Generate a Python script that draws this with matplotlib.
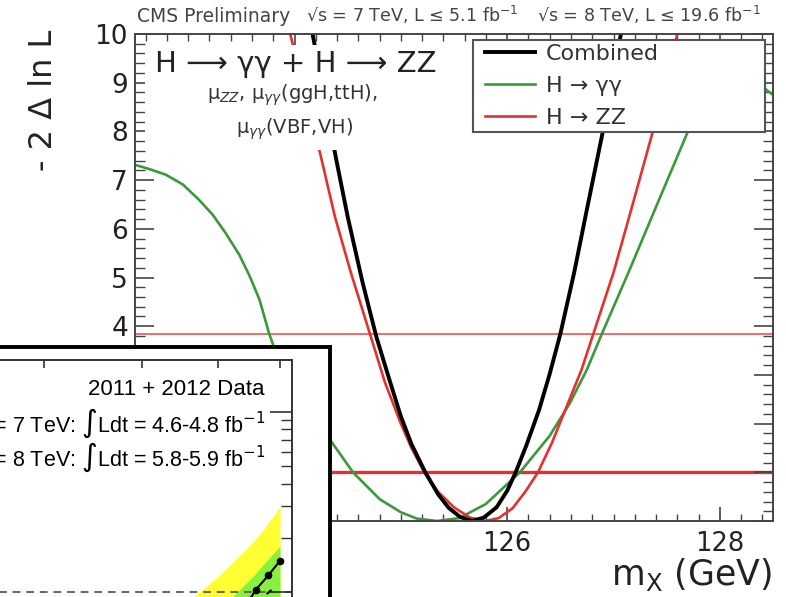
import matplotlib
matplotlib.use("Agg")
import matplotlib.pyplot as plt
from matplotlib.ticker import (MultipleLocator, FixedLocator, NullLocator, LogLocator,
                               FuncFormatter)
from matplotlib.patches import Rectangle

plt.rcParams['font.family'] = ['DejaVu Sans']
plt.rcParams['mathtext.fontset'] = 'dejavusans'

# ---------------- main-plot data ----------------
mass_comb = [124.17, 124.30, 124.39, 124.50, 124.64, 124.77, 124.90, 125.00, 125.10, 125.23,
             125.35, 125.45, 125.56, 125.67, 125.78, 125.90, 126.00, 126.08, 126.18, 126.30,
             126.40, 126.50, 126.63, 126.75, 126.90, 127.07]
nll_comb = [10.0, 8.50, 7.45, 6.25, 4.90, 3.78, 2.85, 2.15, 1.58, 1.00,
            0.55, 0.27, 0.08, 0.00, 0.07, 0.28, 0.62, 1.00, 1.55, 2.28,
            3.02, 3.84, 5.10, 6.40, 8.00, 10.0]

mass_zz = [123.96, 124.10, 124.24, 124.38, 124.53, 124.71, 124.85, 125.00, 125.10, 125.22,
           125.35, 125.50, 125.65, 125.80, 125.92, 126.05, 126.17, 126.29, 126.42, 126.55,
           126.70, 126.81, 127.00, 127.18, 127.37, 127.60]
nll_zz = [10.0, 8.75, 7.56, 6.25, 5.10, 3.84, 2.85, 2.00, 1.50, 1.00,
          0.60, 0.28, 0.07, 0.00, 0.06, 0.26, 0.60, 1.00, 1.60, 2.30,
          3.11, 3.84, 5.10, 6.50, 8.00, 10.0]

mass_gg = [122.49, 122.63, 122.79, 122.95, 123.10, 123.23, 123.35, 123.48, 123.58, 123.67,
           123.76, 123.85, 124.00, 124.20, 124.35, 124.55, 124.80, 125.00, 125.15, 125.34,
           125.55, 125.80, 126.12, 126.40, 126.59, 126.75, 126.89, 127.14, 127.40, 127.70,
           127.95, 128.15, 128.35, 128.50]
nll_gg = [7.32, 7.23, 7.11, 6.91, 6.60, 6.29, 5.92, 5.47, 5.02, 4.55,
          3.86, 3.30, 2.70, 2.05, 1.62, 1.00, 0.45, 0.18, 0.05, 0.00,
          0.06, 0.35, 1.00, 1.75, 2.42, 3.11, 3.84, 5.10, 6.45, 8.00,
          8.85, 9.10, 9.00, 8.75]

cl_levels = [1.0, 3.84]
legend_labels = ['Combined', 'H → γγ', 'H → ZZ']

# ---------------- inset (ATLAS fragment) data ----------------
yellow_x = [4.48, 4.66, 5.04, 5.42, 5.71, 6.00]
yellow_hi = [0.79, 0.94, 1.26, 1.71, 2.21, 2.98]
green_x = [5.12, 5.22, 5.56, 5.83, 6.00]
green_hi = [0.84, 0.94, 1.24, 1.57, 1.79]
obs_x = [5.48, 5.59, 5.80, 6.00]
obs_y = [0.90, 1.03, 1.24, 1.49]
exp_x = [5.77, 5.91]
exp_y = [0.975, 1.066]
inset_xticks = [3, 4, 5, 6]

W, H = 786, 597
def fx(px):
    return px / W
def fy(py):
    return 1 - py / H

fig = plt.figure(figsize=(W / 100, H / 100), dpi=100)
fig.patch.set_facecolor('white')

ax = fig.add_axes([fx(135), fy(521), (773 - 135) / W, (521 - 34) / H])
ax.set_xlim(122.5, 128.5)
ax.set_ylim(0, 10)

c_green = '#3a9a3a'
c_red = '#e53030'
ax.axhline(cl_levels[1], color='#f06060', lw=1.3, zorder=1.5)
ax.axhline(cl_levels[0], color=c_red, lw=2.4, zorder=1.5)
l_gg, = ax.plot(mass_gg, nll_gg, color=c_green, lw=1.9, zorder=2)
l_zz, = ax.plot(mass_zz, nll_zz, color=c_red, lw=1.9, zorder=2.1)
l_comb, = ax.plot(mass_comb, nll_comb, color='black', lw=2.8, zorder=2.2)

for s in ax.spines.values():
    s.set_color('#444')
    s.set_linewidth(1.4)

ax.xaxis.set_major_locator(MultipleLocator(2))
ax.xaxis.set_minor_locator(MultipleLocator(0.2))
ax.yaxis.set_major_locator(MultipleLocator(1))
ax.yaxis.set_minor_locator(MultipleLocator(0.2))
# labels that sit under the overlaid inset are not visible in the reference
ax.xaxis.set_major_formatter(FuncFormatter(lambda v, p: f"{v:g}" if v > 125 else ''))
ax.yaxis.set_major_formatter(FuncFormatter(lambda v, p: f"{v:g}" if v > 3.5 else ''))
ax.tick_params(axis='x', which='major', direction='in', length=10, width=1.2, top=True,
               bottom=True, labelsize=18.5, pad=7, color='#444', labelcolor='#222')
ax.tick_params(axis='x', which='minor', direction='in', length=5, width=1.0, top=True,
               bottom=True, color='#444')
ax.tick_params(axis='y', which='major', direction='in', length=14, width=1.2, left=True,
               right=True, labelsize=19, pad=5, color='#444', labelcolor='#222')
ax.tick_params(axis='y', which='minor', direction='in', length=7, width=1.0, left=True,
               right=True, color='#444')

# white pave behind the title texts
ax.add_patch(Rectangle(((145 - 135) / 638, (521 - 150) / 487), 300 / 638, 105 / 487,
                       transform=ax.transAxes, facecolor='white', edgecolor='none', zorder=3))
ax.text(fx(155), fy(72), 'H ⟶ γγ + H ⟶ ZZ', transform=fig.transFigure, fontsize=21,
        color='#222', ha='left', va='baseline', zorder=4)
ax.text(fx(292), fy(100), 'μ$_{ZZ}$, μ$_{\\gamma\\gamma}$(ggH,ttH),', transform=fig.transFigure,
        fontsize=14, color='#333', ha='center', va='baseline', zorder=4)
ax.text(fx(295), fy(134), 'μ$_{\\gamma\\gamma}$(VBF,VH)', transform=fig.transFigure,
        fontsize=14, color='#333', ha='center', va='baseline', zorder=4)

# legend box
ax.add_patch(Rectangle(((473 - 135) / 638, (521 - 132) / 487), (765 - 473) / 638, 92 / 487,
                       transform=ax.transAxes, facecolor='white', edgecolor='#555', lw=1.5,
                       zorder=3))
leg = ax.legend([l_comb, l_gg, l_zz], legend_labels, loc='upper left',
                bbox_to_anchor=((485 - 135) / 638, (521 - 44) / 487), frameon=False,
                fontsize=16, handlelength=2.25, handletextpad=0.5, labelspacing=0.53,
                borderpad=0, borderaxespad=0)
leg.set_zorder(5)
for t in leg.get_texts():
    t.set_color('#333')

# top header and axis titles
fig.text(fx(137), fy(22), 'CMS Preliminary', fontsize=13.5, color='#444', ha='left',
         va='baseline')
fig.text(fx(306), fy(22), '√s = 7 TeV, L ≤ 5.1 fb$^{-1}$', fontsize=12.6, color='#444',
         ha='left', va='baseline')
fig.text(fx(537), fy(22), '√s = 8 TeV, L ≤ 19.6 fb$^{-1}$', fontsize=12.6, color='#444',
         ha='left', va='baseline')
fig.text(fx(44), fy(30), '- 2 Δ ln L', rotation=90, fontsize=23, color='#222',
         ha='center', va='top')
fig.text(fx(772), fy(585), 'm$_{\\mathrm{X}}$ (GeV)', fontsize=25, color='#222',
         ha='right', va='baseline')

# ---------------- inset ----------------
ax_box = fig.add_axes([fx(-40), fy(640), 370 / W, (640 - 347) / H])
ax_box.set_facecolor('white')
ax_box.set_xticks([])
ax_box.set_yticks([])
for s in ax_box.spines.values():
    s.set_color('black')
    s.set_linewidth(2.8)

ax_in = fig.add_axes([fx(-20), fy(632), 312 / W, (632 - 360) / H])
ax_in.set_xscale('log')
ax_in.set_yscale('log')
ax_in.set_xlim(2.486, 6.215)
ax_in.set_ylim(0.5995, 19.45)
ax_in.fill_between(yellow_x, 0.3, yellow_hi, color='#ffff33', lw=0, zorder=1)
ax_in.fill_between(green_x, 0.3, green_hi, color='#88f040', lw=0, zorder=1.1)
ax_in.axhline(1.0, color='#666', lw=1.4, ls=(0, (4, 3)), zorder=1.5)
ax_in.plot(obs_x, obs_y, color='black', lw=1.5, marker='o', ms=4.5, zorder=3)
ax_in.plot(exp_x, exp_y, color='black', lw=1.5, ls=(0, (3, 3)), zorder=2.5)
for s in ax_in.spines.values():
    s.set_color('#333')
    s.set_linewidth(1.4)
ax_in.xaxis.set_major_locator(FixedLocator(inset_xticks))
ax_in.xaxis.set_minor_locator(NullLocator())
ax_in.yaxis.set_major_locator(LogLocator(base=10))
ax_in.yaxis.set_minor_locator(LogLocator(base=10, subs=[2, 3, 4, 5, 6, 7, 8, 9]))
ax_in.tick_params(axis='x', which='major', direction='in', top=True, bottom=False,
                  labelbottom=False, labeltop=False, length=6, width=1.2, color='#333')
ax_in.tick_params(axis='y', which='major', direction='in', right=True, left=False,
                  labelleft=False, labelright=False, length=16, width=1.2, color='#333')
ax_in.tick_params(axis='y', which='minor', direction='in', right=True, left=False,
                  labelleft=False, labelright=False, length=8, width=1.0, color='#333')

fam = ['Liberation Sans', 'DejaVu Sans']
ax_in.text(fx(265), fy(395), '2011 + 2012 Data', transform=fig.transFigure, fontsize=16,
           family=fam, ha='right', va='baseline', color='black', zorder=5)
ax_in.text(fx(265), fy(432), '√s = 7 TeV: ∫Ldt = 4.6-4.8 fb$^{-1}$', transform=fig.transFigure,
           fontsize=15.5, family=fam, ha='right', va='baseline', color='black', zorder=5)
ax_in.text(fx(265), fy(466), '√s = 8 TeV: ∫Ldt = 5.8-5.9 fb$^{-1}$', transform=fig.transFigure,
           fontsize=15.5, family=fam, ha='right', va='baseline', color='black', zorder=5)

fig.savefig('out.png', dpi=100)
